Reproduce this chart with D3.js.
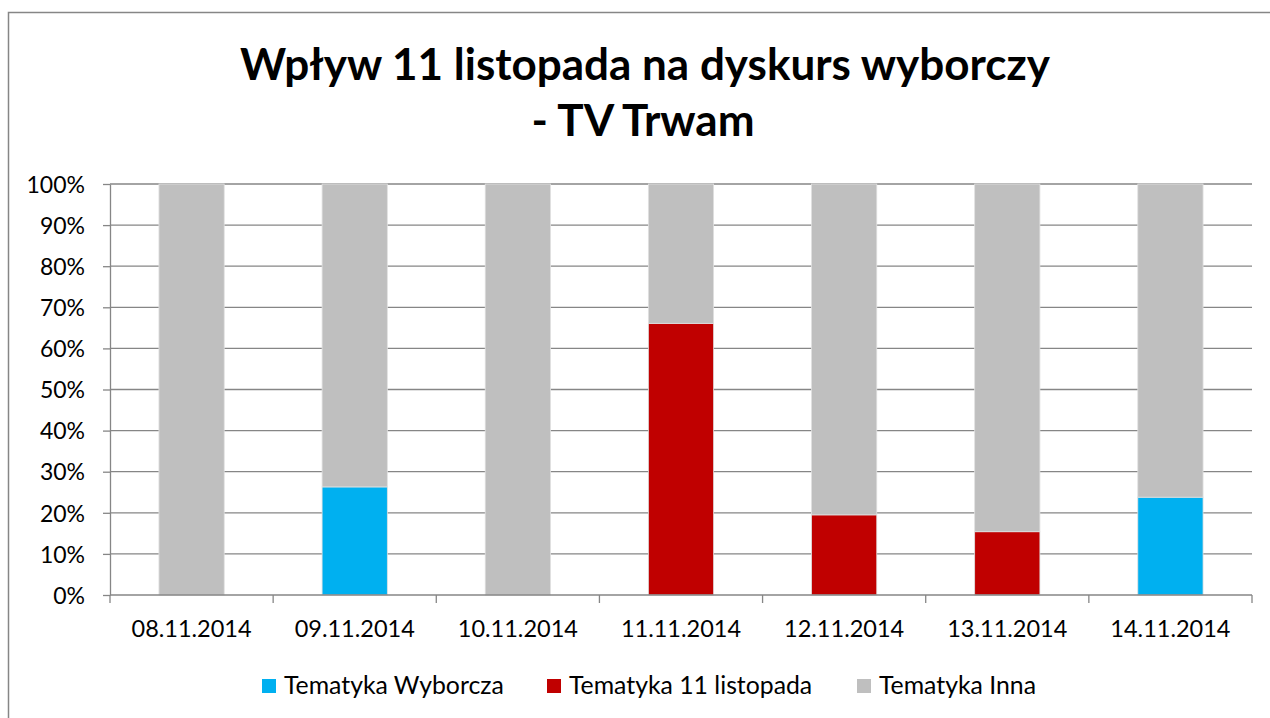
<!DOCTYPE html>
<html>
<head>
<meta charset="utf-8">
<script src="https://cdn.jsdelivr.net/npm/d3@7"></script>
<style>
  body { margin: 0; background: #fff; }
  text { font-family: Lato, "Open Sans", sans-serif; fill: #000; }
</style>
</head>
<body>
<svg id="chart" width="1270" height="718"></svg>
<script>
// data (share of coverage, %)
const dates = ["08.11.2014", "09.11.2014", "10.11.2014", "11.11.2014", "12.11.2014", "13.11.2014", "14.11.2014"];
const wyborcza = [0, 26.3, 0, 0, 0, 0, 23.8];
const listopad = [0, 0, 0, 66.1, 19.5, 15.4, 0];
const inna = [100, 73.7, 100, 33.9, 80.5, 84.6, 76.2];
const seriesNames = ["Tematyka Wyborcza", "Tematyka 11 listopada", "Tematyka Inna"];
const seriesColors = ["#00B0F0", "#C00000", "#BFBFBF"];
const yTicks = [0, 10, 20, 30, 40, 50, 60, 70, 80, 90, 100];

const CONFIG = { margin: { left: 110, top: 184, right: 18, bottom: 123 } };
const svg = d3.select("#chart");
const W = 1270, H = 718;
const width = W - CONFIG.margin.left - CONFIG.margin.right;
const height = H - CONFIG.margin.top - CONFIG.margin.bottom;

// outer chart frame
svg.append("rect")
  .attr("x", 8.5).attr("y", 12.5)
  .attr("width", 1280).attr("height", 720)
  .attr("fill", "none")
  .attr("stroke", "#868686")
  .attr("stroke-width", 1.5);

// title
svg.append("text")
  .attr("x", 645).attr("y", 80)
  .attr("text-anchor", "middle")
  .style("font-size", "44px").style("font-weight", "bold")
  .text("Wpływ 11 listopada na dyskurs wyborczy");
svg.append("text")
  .attr("x", 643).attr("y", 136)
  .attr("text-anchor", "middle")
  .style("font-size", "44px").style("font-weight", "bold")
  .text("- TV Trwam");

const table = dates.map((d, i) => ({ date: d, s0: wyborcza[i], s1: listopad[i], s2: inna[i] }));
const stack = d3.stack().keys(["s0", "s1", "s2"])(table);

const x = d3.scaleBand().domain(dates).range([0, width]).paddingInner(0.6).paddingOuter(0.3);
const y = d3.scaleLinear().domain([0, 100]).range([height, 0]);

const g = svg.append("g")
  .attr("transform", "translate(" + CONFIG.margin.left + "," + CONFIG.margin.top + ")");

// gridlines
g.append("g")
  .selectAll("line")
  .data(yTicks.slice(1))
  .enter()
  .append("line")
  .attr("x1", 0).attr("x2", width)
  .attr("y1", d => y(d)).attr("y2", d => y(d))
  .attr("stroke", "#868686")
  .attr("stroke-width", 1.3);

// bars
g.append("g")
  .selectAll("g")
  .data(stack)
  .enter()
  .append("g")
  .attr("fill", (d, i) => seriesColors[i])
  .selectAll("rect")
  .data(d => d)
  .enter()
  .append("rect")
  .attr("x", d => x(d.data.date))
  .attr("width", x.bandwidth())
  .attr("y", d => y(d[1]))
  .attr("height", d => y(d[0]) - y(d[1]))
  .attr("stroke", d => (d[1] - d[0]) > 0 ? "#e0e0e0" : "none")
  .attr("stroke-width", 0.8);

// y axis
const yAxis = g.append("g")
  .call(d3.axisLeft(y).tickValues(yTicks).tickFormat(d => d + "%").tickSize(7).tickSizeOuter(0));
yAxis.select(".domain").attr("stroke", "#868686").attr("stroke-width", 1.3);
yAxis.selectAll(".tick line").attr("stroke", "#868686").attr("stroke-width", 1.3);
yAxis.selectAll(".tick text")
  .attr("x", -25)
  .attr("dy", "0.36em")
  .style("font-family", "Lato, 'Open Sans', sans-serif")
  .style("font-size", "23px")
  .attr("fill", "#000");

// x axis with ticks between categories
const xAxis = g.append("g").attr("transform", "translate(0," + height + ")");
xAxis.append("line")
  .attr("x1", 0).attr("x2", width)
  .attr("stroke", "#868686").attr("stroke-width", 1.3);
xAxis.selectAll("line.tk")
  .data(d3.range(dates.length + 1))
  .enter()
  .append("line")
  .classed("tk", true)
  .attr("x1", i => i * x.step())
  .attr("x2", i => i * x.step())
  .attr("y1", 0).attr("y2", 8)
  .attr("stroke", "#868686").attr("stroke-width", 1.3);
xAxis.selectAll("text")
  .data(dates)
  .enter()
  .append("text")
  .attr("x", d => x(d) + x.bandwidth() / 2)
  .attr("y", 42)
  .attr("text-anchor", "middle")
  .style("font-size", "23.5px")
  .text(d => d);

// legend
const legendX = [262, 547, 857];
const legend = svg.append("g")
  .selectAll("g")
  .data(seriesNames)
  .enter()
  .append("g")
  .attr("transform", (d, i) => "translate(" + legendX[i] + ",679)");
legend.append("rect")
  .attr("width", 14).attr("height", 14)
  .attr("fill", (d, i) => seriesColors[i]);
legend.append("text")
  .attr("x", 22).attr("y", 15)
  .style("font-size", "24.8px")
  .text(d => d);
</script>
</body>
</html>
